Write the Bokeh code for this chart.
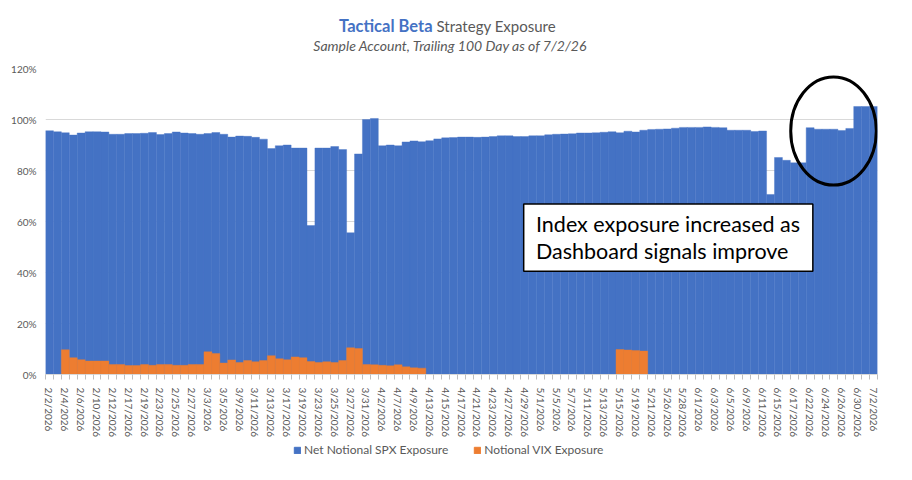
from bokeh.plotting import figure
from bokeh.layouts import column
from bokeh.models import (ColumnDataSource, Range1d, FixedTicker, NumeralTickFormatter,
                          Legend, LegendItem, Label, BoxAnnotation)
from bokeh.core.properties import value
from bokeh.embed import file_html
from bokeh.resources import INLINE

dates = [
    "2/2/2026", "2/3/2026", "2/4/2026", "2/5/2026", "2/6/2026", "2/9/2026", "2/10/2026",
    "2/11/2026", "2/12/2026", "2/13/2026", "2/17/2026", "2/18/2026", "2/19/2026", "2/20/2026",
    "2/23/2026", "2/24/2026", "2/25/2026", "2/26/2026", "2/27/2026", "3/2/2026", "3/3/2026",
    "3/4/2026", "3/5/2026", "3/6/2026", "3/9/2026", "3/10/2026", "3/11/2026", "3/12/2026",
    "3/13/2026", "3/16/2026", "3/17/2026", "3/18/2026", "3/19/2026", "3/20/2026", "3/23/2026",
    "3/24/2026", "3/25/2026", "3/26/2026", "3/27/2026", "3/30/2026", "3/31/2026", "4/1/2026",
    "4/2/2026", "4/6/2026", "4/7/2026", "4/8/2026", "4/9/2026", "4/10/2026", "4/13/2026",
    "4/14/2026", "4/15/2026", "4/16/2026", "4/17/2026", "4/20/2026", "4/21/2026", "4/22/2026",
    "4/23/2026", "4/24/2026", "4/27/2026", "4/28/2026", "4/29/2026", "4/30/2026", "5/1/2026",
    "5/4/2026", "5/5/2026", "5/6/2026", "5/7/2026", "5/8/2026", "5/11/2026", "5/12/2026",
    "5/13/2026", "5/14/2026", "5/15/2026", "5/18/2026", "5/19/2026", "5/20/2026", "5/21/2026",
    "5/22/2026", "5/26/2026", "5/27/2026", "5/28/2026", "5/29/2026", "6/1/2026", "6/2/2026",
    "6/3/2026", "6/4/2026", "6/5/2026", "6/8/2026", "6/9/2026", "6/10/2026", "6/11/2026",
    "6/12/2026", "6/15/2026", "6/16/2026", "6/17/2026", "6/18/2026", "6/22/2026", "6/23/2026",
    "6/24/2026", "6/25/2026", "6/26/2026", "6/29/2026", "6/30/2026", "7/1/2026", "7/2/2026",
]

# percent values
spx_pct = [
    95.6, 95.2, 94.8, 93.9, 94.7, 95.2, 95.2, 95.1, 94.2, 94.2,
    94.5, 94.5, 94.6, 94.9, 94.1, 94.5, 95.1, 94.7, 94.5, 94.2,
    94.5, 94.9, 94.2, 93.1, 93.5, 93.4, 93.0, 92.3, 88.6, 89.7,
    90.0, 88.8, 88.8, 58.4, 88.8, 88.8, 89.4, 88.2, 55.6, 86.5,
    100.0, 100.4, 89.7, 90.0, 89.7, 91.2, 91.6, 91.3, 91.7, 92.4,
    92.8, 92.9, 93.1, 93.1, 93.0, 93.1, 93.3, 93.6, 93.6, 93.3,
    93.3, 93.6, 93.6, 94.0, 94.2, 94.3, 94.4, 94.7, 94.7, 94.8,
    95.0, 95.2, 94.8, 95.4, 95.1, 95.8, 96.1, 96.2, 96.3, 96.6,
    96.9, 96.9, 96.9, 97.1, 96.9, 96.8, 95.8, 95.8, 95.8, 95.3,
    95.5, 70.6, 85.1, 84.0, 83.0, 83.0, 96.8, 96.2, 96.2, 96.2,
    95.7, 96.5, 105.1, 105.1, 105.1,
]
vix_pct = [
    0, 0, 9.7, 6.6, 5.8, 5.3, 5.3, 5.3, 3.9, 3.9,
    3.5, 3.5, 3.9, 3.6, 3.9, 3.9, 3.6, 3.6, 3.9, 3.9,
    8.9, 8.2, 4.5, 5.7, 4.7, 5.5, 5.0, 5.5, 7.4, 6.2,
    5.8, 6.9, 6.6, 5.1, 4.7, 5.0, 4.7, 5.5, 10.5, 10.2,
    3.9, 3.8, 3.6, 3.4, 3.8, 3.0, 2.6, 2.5, 0, 0,
    0, 0, 0, 0, 0, 0, 0, 0, 0, 0,
    0, 0, 0, 0, 0, 0, 0, 0, 0, 0,
    0, 0, 9.8, 9.6, 9.4, 9.2, 0, 0, 0, 0,
    0, 0, 0, 0, 0, 0, 0, 0, 0, 0,
    0, 0, 0, 0, 0, 0, 0, 0, 0, 0,
    0, 0, 0, 0, 0,
]
y_ticks = [0, 0.2, 0.4, 0.6, 0.8, 1.0, 1.2]

series_names = ["Net Notional SPX Exposure", "Notional VIX Exposure"]
title_bold = "Tactical Beta"
title_rest = "Strategy Exposure"
subtitle = "Sample Account, Trailing 100 Day as of 7/2/26"
note_lines = ["Index exposure increased as", "Dashboard signals improve"]

BLUE = "#4472C4"
ORANGE = "#ED7D31"
GRAY_TXT = "#595959"
FONT = "Lato"
W = 912
TITLE_H = 60
MAIN_H = 380
LEG_H = 40
BL, BR = 45, 35          # frame borders shared by all strips

n = len(dates)
src = ColumnDataSource(dict(
    x=list(range(n)),
    spx=[v / 100 for v in spx_pct],
    vix=[v / 100 for v in vix_pct],
    date=dates,
))


def blank_strip(h, x_range, y_range):
    f = figure(width=W, height=h, output_backend="svg", toolbar_location=None,
               x_range=x_range, y_range=y_range,
               x_axis_type=None, y_axis_type=None,
               min_border_left=BL, min_border_right=BR, min_border_top=0, min_border_bottom=0)
    f.outline_line_color = None
    f.grid.visible = False
    return f


# ---------------- title strip (data units = page pixels) ----------------
t = blank_strip(TITLE_H, Range1d(BL, W - BR), Range1d(TITLE_H, 0))
t.text(x=[432], y=[25], text=[title_bold], text_align="right", text_baseline="middle",
       text_font=value(FONT), text_font_style="bold", text_font_size="16.5px",
       text_color=BLUE)
t.text(x=[436], y=[25], text=[title_rest], text_align="left", text_baseline="middle",
       text_font=value(FONT), text_font_size="15px", text_color=GRAY_TXT)
t.text(x=[450], y=[45], text=[subtitle], text_align="center", text_baseline="middle",
       text_font=value(FONT), text_font_style="italic", text_font_size="14px",
       text_color=GRAY_TXT)

# ---------------- main chart ----------------
p = figure(width=W, height=MAIN_H, output_backend="svg", toolbar_location=None,
           x_range=Range1d(-0.5, n - 0.5), y_range=Range1d(0, 1.2),
           min_border_left=BL, min_border_right=BR, min_border_top=8, min_border_bottom=64)
p.outline_line_color = None

p.vbar(x="x", top="spx", width=1.0, source=src, fill_color=BLUE,
       line_color=BLUE, line_width=0.4)
p.vbar(x="x", top="vix", width=1.0, source=src, fill_color=ORANGE,
       line_color=ORANGE, line_width=0.4)

p.xgrid.visible = False
p.ygrid.grid_line_color = "#D9D9D9"
p.ygrid.grid_line_width = 1

p.yaxis.ticker = FixedTicker(ticks=y_ticks)
p.yaxis.formatter = NumeralTickFormatter(format="0%")
p.yaxis.axis_line_color = None
p.yaxis.major_tick_line_color = None
p.yaxis.minor_tick_line_color = None
p.yaxis.major_tick_out = 0
p.yaxis.major_tick_in = 0
p.yaxis.major_label_standoff = 9
p.yaxis.major_label_text_font = FONT
p.yaxis.major_label_text_font_size = "10px"
p.yaxis.major_label_text_color = GRAY_TXT

label_ticks = list(range(0, n, 2))
p.xaxis.ticker = FixedTicker(ticks=label_ticks, minor_ticks=[i - 0.5 for i in range(n + 1)])
p.xaxis.major_label_overrides = {i: dates[i] for i in label_ticks}
p.xaxis.major_label_orientation = "vertical"
p.xaxis.axis_line_color = "#D9D9D9"
p.xaxis.major_tick_line_color = None
p.xaxis.major_tick_out = 0
p.xaxis.major_tick_in = 0
p.xaxis.minor_tick_line_color = "#BFBFBF"
p.xaxis.minor_tick_out = 5
p.xaxis.minor_tick_in = 0
p.xaxis.major_label_standoff = 8
p.xaxis.major_label_text_font = FONT
p.xaxis.major_label_text_font_size = "10px"
p.xaxis.major_label_text_color = GRAY_TXT

# annotation box
p.add_layout(BoxAnnotation(left=59.85, right=96.34, top=0.669, bottom=0.405,
                           fill_color="white", fill_alpha=1.0,
                           line_color="black", line_width=1.5, line_alpha=1.0))
p.add_layout(Label(x=61.4, y=0.590, text=note_lines[0], text_align="left",
                   text_baseline="middle", text_font=FONT, text_font_size="21.5px",
                   text_color="black"))
p.add_layout(Label(x=61.4, y=0.483, text=note_lines[1], text_align="left",
                   text_baseline="middle", text_font=FONT, text_font_size="21.5px",
                   text_color="black"))

# highlight ring
p.ellipse(x=98.95, y=0.955, width=10.8, height=0.424, fill_color=None,
          line_color="black", line_width=3)

# ---------------- legend strip ----------------
# the series are drawn here off-range only so that the legend swatches have colours
lg = blank_strip(LEG_H, Range1d(1000, 1832), Range1d(10, 50))
k_spx = lg.vbar(x="x", top="spx", width=1, source=src, fill_color=BLUE, line_color=BLUE)
k_vix = lg.vbar(x="x", top="vix", width=1, source=src, fill_color=ORANGE, line_color=ORANGE)
legend = Legend(items=[LegendItem(label=series_names[0], renderers=[k_spx], index=0),
                       LegendItem(label=series_names[1], renderers=[k_vix], index=0)],
                location=(293 - BL, 23), orientation="horizontal",
                glyph_width=8, glyph_height=8, label_standoff=3, spacing=25,
                padding=0, margin=0, border_line_color=None, background_fill_alpha=0,
                label_text_font=FONT, label_text_font_size="12px",
                label_text_color=GRAY_TXT, label_height=12)
lg.add_layout(legend)

layout = column(t, p, lg, spacing=0)
open("out.html", "w").write(file_html(layout, INLINE))
